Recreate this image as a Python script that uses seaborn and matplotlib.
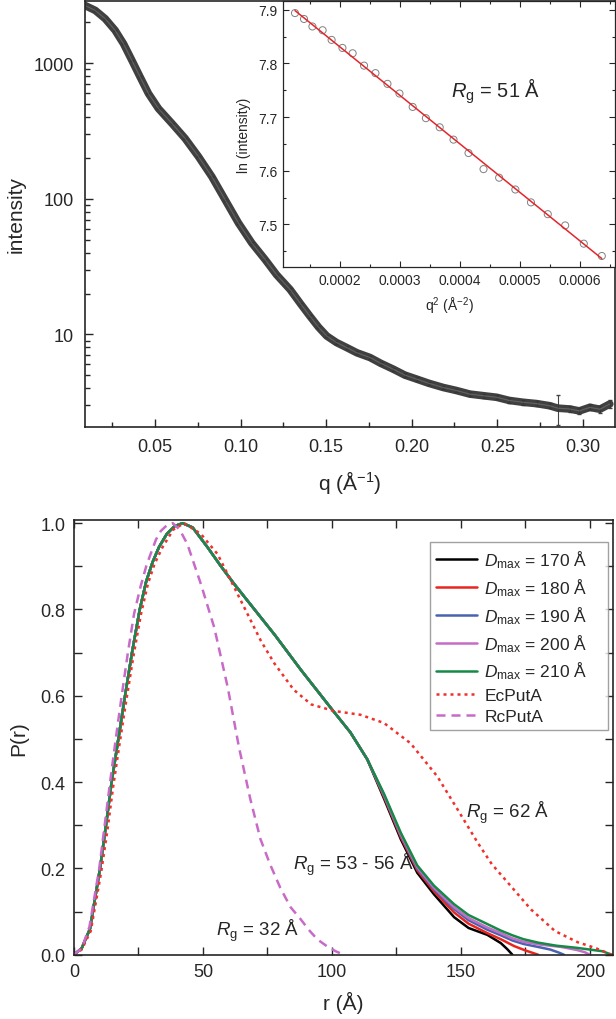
import numpy as np
import pandas as pd
import matplotlib.pyplot as plt
import matplotlib.ticker as mticker
import seaborn as sns

# --- SAXS curve (top panel) ---
q = [0.0091, 0.0150, 0.0208, 0.0266, 0.0315, 0.0364, 0.0412, 0.0461, 0.0519, 0.0598,
     0.0675, 0.0753, 0.0831, 0.0909, 0.0987, 0.1065, 0.1143, 0.1210, 0.1289, 0.1350,
     0.1405, 0.1455, 0.1503, 0.1560, 0.1620, 0.1680, 0.1756, 0.1820, 0.1892, 0.1960,
     0.2029, 0.2100, 0.2184, 0.2260, 0.2340, 0.2420, 0.2496, 0.2570, 0.2651, 0.2730,
     0.2807, 0.2854, 0.2924, 0.2980, 0.3041, 0.3100, 0.3158]
intensity = [2667, 2455, 2133, 1750, 1395, 1052, 793, 598, 464, 360,
             279, 205, 146, 98.4, 66.3, 47.2, 35.6, 27.5, 21.4, 16.8,
             13.6, 11.3, 9.72, 8.70, 7.98, 7.30, 6.74, 6.10, 5.53, 5.00,
             4.67, 4.35, 4.05, 3.85, 3.62, 3.52, 3.43, 3.25, 3.15, 3.08,
             2.97, 2.85, 2.81, 2.72, 2.89, 2.80, 3.06]
intensity_err = [20, 18, 16, 14, 12, 10, 8, 6, 5, 4,
                 3, 2.5, 2, 1.5, 1.1, 0.8, 0.6, 0.5, 0.4, 0.35,
                 0.3, 0.25, 0.22, 0.2, 0.18, 0.17, 0.16, 0.15, 0.14, 0.14,
                 0.13, 0.13, 0.12, 0.12, 0.12, 0.12, 0.12, 0.12, 0.12, 0.12,
                 0.13, 0.70, 0.13, 0.14, 0.15, 0.16, 0.20]

# --- Guinier inset ---
q2 = [0.000125, 0.000140, 0.000154, 0.000171, 0.000186, 0.000204, 0.000221, 0.000240,
      0.000259, 0.000279, 0.000299, 0.000321, 0.000343, 0.000366, 0.000389, 0.000414,
      0.000439, 0.000465, 0.000492, 0.000518, 0.000546, 0.000575, 0.000606, 0.000636]
ln_int = [7.894, 7.883, 7.869, 7.862, 7.844, 7.829, 7.819, 7.796,
          7.782, 7.762, 7.744, 7.719, 7.698, 7.681, 7.658, 7.633,
          7.603, 7.587, 7.565, 7.541, 7.519, 7.498, 7.464, 7.441]

# --- P(r) (bottom panel) ---
r_head = [0, 3, 6.2, 10.1, 12.4, 14.6, 17.2, 19.8, 22.5, 25.5, 28, 30.5, 33, 36, 39, 42.1,
          46, 51.8, 57, 62, 70, 78, 88, 100.1, 107.2, 113.7]
p_head = [0, 0.015, 0.06, 0.2, 0.3, 0.4, 0.5, 0.6, 0.7, 0.8, 0.865, 0.91, 0.945, 0.975,
          0.993, 1.0, 0.99, 0.944, 0.9, 0.86, 0.80, 0.74, 0.66, 0.568, 0.515, 0.453]

r_170 = [120.2, 126.7, 133.1, 139.6, 147.4, 153, 160.3, 165.5, 168, 170]
p_170 = [0.362, 0.268, 0.19, 0.14, 0.087, 0.062, 0.046, 0.027, 0.013, 0]
r_180 = [120.2, 126.7, 133.1, 139.6, 147.4, 153, 160.3, 165.5, 170.7, 175, 178, 180]
p_180 = [0.366, 0.273, 0.196, 0.147, 0.098, 0.072, 0.05, 0.036, 0.02, 0.01, 0.004, 0]
r_190 = [120.2, 126.7, 133.1, 139.6, 147.4, 153, 160.3, 165.5, 170, 174.3, 180, 184.7, 188, 190]
p_190 = [0.369, 0.277, 0.2, 0.152, 0.106, 0.08, 0.058, 0.045, 0.033, 0.025, 0.018, 0.012, 0.005, 0]
r_200 = [120.2, 126.7, 133.1, 139.6, 147.4, 153, 160.3, 165.5, 170, 174.3, 180, 189, 195, 198, 200]
p_200 = [0.371, 0.279, 0.203, 0.155, 0.11, 0.085, 0.063, 0.05, 0.038, 0.03, 0.024, 0.018, 0.011, 0.006, 0]
r_210 = [120.2, 126.7, 133.1, 139.6, 147.4, 153, 160.3, 165.5, 170, 174.3, 180, 187, 195, 200, 205, 208.5]
p_210 = [0.373, 0.283, 0.207, 0.16, 0.117, 0.092, 0.071, 0.056, 0.045, 0.036, 0.028, 0.021, 0.016, 0.012, 0.008, 0]

r_ec = [0, 3, 6.5, 10.5, 13, 15.2, 17.7, 20.3, 23, 26, 28.7, 31.2, 34.3, 38.5, 42.7, 49.2,
        55.7, 60.9, 66, 72.5, 77.7, 85.2, 92, 100.7, 111.1, 120.2, 130.5, 140.9, 148.7,
        156.5, 162, 168.1, 177.2, 186.5, 195.3, 202, 208.5]
p_ec = [0, 0.012, 0.055, 0.19, 0.29, 0.39, 0.49, 0.59, 0.69, 0.79, 0.86, 0.905, 0.944,
        0.985, 1.0, 0.975, 0.928, 0.866, 0.805, 0.727, 0.675, 0.614, 0.58, 0.565, 0.556,
        0.537, 0.49, 0.413, 0.337, 0.26, 0.21, 0.168, 0.105, 0.055, 0.029, 0.016, 0]

r_rc = [0, 3, 6, 9.8, 11.9, 14, 16.2, 18.5, 20.9, 23.3, 25.9, 28, 29.8, 31.8, 33.7, 36,
        38.3, 41, 44, 49.2, 54.4, 59.6, 64, 68.4, 72.3, 76, 80, 84, 87.8, 91, 94.3, 98,
        101.5, 104.6]
p_rc = [0, 0.015, 0.065, 0.2, 0.3, 0.4, 0.5, 0.6, 0.7, 0.79, 0.855, 0.9, 0.93, 0.962,
        0.982, 0.995, 1.0, 0.985, 0.951, 0.859, 0.758, 0.62, 0.48, 0.36, 0.268, 0.21,
        0.155, 0.11, 0.083, 0.058, 0.036, 0.02, 0.008, 0]

dmax_tails = [("170", r_170, p_170, "#000000"),
              ("180", r_180, p_180, "#e8251f"),
              ("190", r_190, p_190, "#4a63b0"),
              ("200", r_200, p_200, "#c56cc6"),
              ("210", r_210, p_210, "#158a47")]

sns.set_style("ticks")
plt.rcParams['font.family'] = ['Liberation Sans', 'DejaVu Sans']
plt.rcParams['mathtext.fontset'] = 'custom'
plt.rcParams['mathtext.rm'] = 'Liberation Sans'
plt.rcParams['mathtext.it'] = 'Liberation Sans:italic'
plt.rcParams['xtick.direction'] = 'in'
plt.rcParams['ytick.direction'] = 'in'

fig = plt.figure(figsize=(6.16, 10.2), dpi=100)
ax1 = fig.add_axes([0.138, 0.5804, 0.860, 0.418])
ax_in = fig.add_axes([0.4594, 0.737, 0.539, 0.2613])
ax2 = fig.add_axes([0.1201, 0.063, 0.875, 0.4265])

# top panel
ax1.errorbar(q, intensity, yerr=intensity_err, fmt='none', ecolor='#444444', elinewidth=0.8, capsize=1.5)
sns.lineplot(x=q, y=intensity, ax=ax1, color='#363636', lw=5.5, alpha=0.95)
sns.lineplot(x=q, y=intensity, ax=ax1, color='#7a7a7a', lw=0.8, alpha=0.6)
ax1.set_yscale('log')
ax1.set_xlim(0.009, 0.3187)
ax1.set_ylim(2.07, 2900)
ax1.xaxis.set_major_locator(mticker.MultipleLocator(0.05))
ax1.xaxis.set_minor_locator(mticker.MultipleLocator(0.025))
ax1.xaxis.set_major_formatter(mticker.FormatStrFormatter('%.2f'))
ax1.yaxis.set_major_formatter(mticker.FuncFormatter(lambda v, p: '%d' % v))
ax1.yaxis.set_minor_formatter(mticker.NullFormatter())
ax1.tick_params(which='major', length=6, width=1, labelsize=13, pad=8)
ax1.tick_params(which='minor', length=3.5, width=1)
ax1.set_xlabel('q (Å$^{-1}$)', fontsize=15, labelpad=9)
ax1.set_ylabel('intensity', fontsize=15, labelpad=6)
for s in ax1.spines.values():
    s.set_linewidth(1.2)

# inset
sns.scatterplot(x=q2, y=ln_int, ax=ax_in, marker='o', s=26, facecolor='none',
                edgecolor='#808080', linewidth=0.7, zorder=2)
sns.regplot(x=np.array(q2), y=np.array(ln_int), ax=ax_in, scatter=False, ci=None,
            line_kws=dict(color='#e3262b', lw=1.1, zorder=3))
ax_in.set_xlim(0.000105, 0.000658)
ax_in.set_ylim(7.42, 7.917)
ax_in.xaxis.set_major_locator(mticker.MultipleLocator(0.0001))
ax_in.xaxis.set_minor_locator(mticker.MultipleLocator(0.00005))
ax_in.xaxis.set_major_formatter(mticker.FormatStrFormatter('%.4f'))
ax_in.yaxis.set_major_locator(mticker.MultipleLocator(0.1))
ax_in.yaxis.set_minor_locator(mticker.MultipleLocator(0.05))
ax_in.yaxis.set_major_formatter(mticker.FormatStrFormatter('%.1f'))
ax_in.tick_params(which='both', top=True, right=True, labelsize=10, pad=4)
ax_in.tick_params(which='major', length=4, width=0.8)
ax_in.tick_params(which='minor', length=2.5, width=0.8)
ax_in.set_xlabel('q$^{2}$ (Å$^{-2}$)', fontsize=10, labelpad=6)
ax_in.set_ylabel('ln (intensity)', fontsize=10, labelpad=5)
ax_in.text(0.000385, 7.75, '$R_{\\mathrm{g}}$ = 51 Å', fontsize=14.5, ha='left', va='center')
for s in ax_in.spines.values():
    s.set_linewidth(0.9)

# bottom panel
for label, rt, pt, col in dmax_tails:
    sns.lineplot(x=r_head + rt, y=p_head + pt, ax=ax2, color=col, lw=1.8,
                 label='$D_{\\mathrm{max}}$ = %s Å    ' % label, sort=False)
sns.lineplot(x=r_ec, y=p_ec, ax=ax2, color='#f0302a', lw=1.8, linestyle=(0, (1.2, 1.6)),
             label='EcPutA', sort=False)
sns.lineplot(x=r_rc, y=p_rc, ax=ax2, color='#c86ac8', lw=1.8, linestyle=(0, (3.6, 2.4)),
             label='RcPutA', sort=False)
ax2.set_xlim(0, 209)
ax2.set_ylim(0, 1.008)
ax2.xaxis.set_major_locator(mticker.MultipleLocator(50))
ax2.xaxis.set_minor_locator(mticker.MultipleLocator(25))
ax2.yaxis.set_major_locator(mticker.MultipleLocator(0.2))
ax2.yaxis.set_minor_locator(mticker.MultipleLocator(0.1))
ax2.yaxis.set_major_formatter(mticker.FormatStrFormatter('%.1f'))
ax2.tick_params(which='both', top=True, right=True)
ax2.tick_params(which='major', length=6, width=1, labelsize=13, pad=6)
ax2.tick_params(which='minor', length=6, width=1)
ax2.set_xlabel('r (Å)', fontsize=15, labelpad=8)
ax2.set_ylabel('P(r)', fontsize=15, labelpad=9)
for s in ax2.spines.values():
    s.set_linewidth(1.2)
ax2.text(152, 0.33, '$R_{\\mathrm{g}}$ = 62 Å', fontsize=13.5, ha='left', va='center')
ax2.text(85, 0.21, '$R_{\\mathrm{g}}$ = 53 - 56 Å', fontsize=13.5, ha='left', va='center')
ax2.text(55, 0.058, '$R_{\\mathrm{g}}$ = 32 Å', fontsize=13.5, ha='left', va='center')
leg = ax2.legend(loc='upper right', bbox_to_anchor=(0.991, 0.949), borderaxespad=0,
                 fontsize=12.5, frameon=True, fancybox=False, edgecolor='#8a8a8a',
                 handlelength=2.4, handletextpad=0.4, labelspacing=0.36, borderpad=0.35)
leg.get_frame().set_linewidth(1.0)

fig.savefig('out.png', dpi=100)
